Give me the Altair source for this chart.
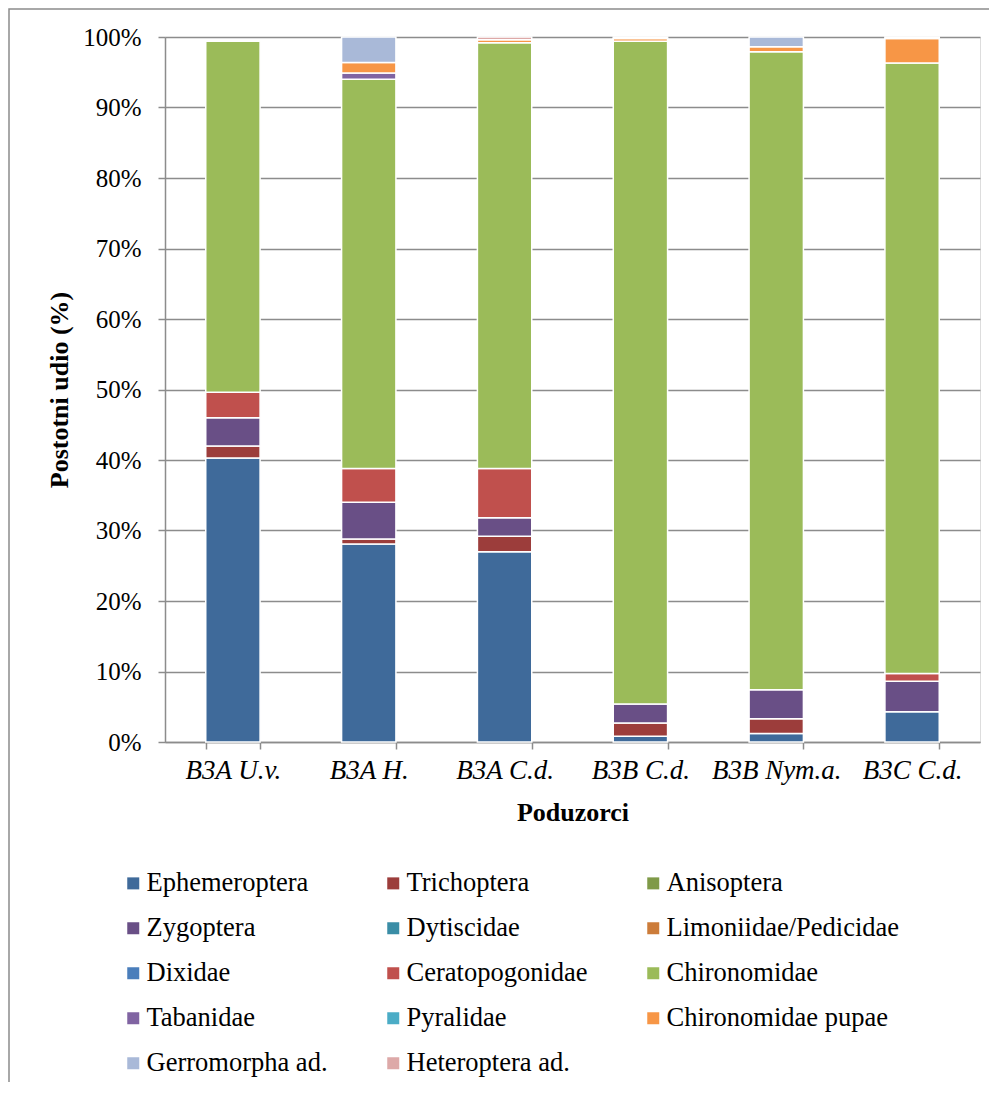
import altair as alt
import pandas as pd

samples = ["B3A U.v.", "B3A H.", "B3A C.d.", "B3B C.d.", "B3B Nym.a.", "B3C C.d."]

taxa = ["Ephemeroptera", "Trichoptera", "Anisoptera", "Zygoptera", "Dytiscidae",
        "Limoniidae/Pedicidae", "Dixidae", "Ceratopogonidae", "Chironomidae",
        "Tabanidae", "Pyralidae", "Chironomidae pupae", "Gerromorpha ad.",
        "Heteroptera ad."]

colors = ["#3F6A9A", "#9C3D3B", "#7F9A48", "#694F86", "#3A8DA6",
          "#CC7C3A", "#4A7EBB", "#C0504D", "#9BBB59",
          "#8064A2", "#4BACC6", "#F79646", "#A9B9D8", "#DDA9A8"]

# percentage share per sample, in taxa order
b3a_uv   = [40.3, 1.7, 0, 4.0, 0, 0, 0, 3.6, 49.8, 0, 0, 0, 0, 0]
b3a_h    = [28.1, 0.7, 0, 5.2, 0, 0, 0, 4.8, 55.2, 0.9, 0, 1.5, 3.6, 0]
b3a_cd   = [27.0, 2.2, 0, 2.6, 0, 0, 0, 7.0, 60.4, 0, 0, 0.4, 0, 0.4]
b3b_cd   = [0.8, 1.9, 0, 2.7, 0, 0, 0, 0, 94.0, 0, 0, 0.4, 0, 0.2]
b3b_nyma = [1.2, 2.1, 0, 4.1, 0, 0, 0, 0, 90.5, 0, 0, 0.7, 1.4, 0]
b3c_cd   = [4.3, 0, 0, 4.3, 0, 0, 0, 1.1, 86.6, 0, 0, 3.5, 0, 0.2]

series = [b3a_uv, b3a_h, b3a_cd, b3b_cd, b3b_nyma, b3c_cd]

rows = []
for s, vals in zip(samples, series):
    for i, (t, v) in enumerate(zip(taxa, vals)):
        if v > 0:
            rows.append({"sample": s, "taxon": t, "value": v, "idx": i})
df = pd.DataFrame(rows)

FONT = "Liberation Serif"
GRID = "#8c8c8c"

bars = alt.Chart(df).mark_bar(stroke="white", strokeWidth=1.5).encode(
    x=alt.X("sample:N", sort=samples,
            scale=alt.Scale(paddingInner=0.6, paddingOuter=0.3),
            axis=alt.Axis(title="Poduzorci", labelAngle=0, labelFontStyle="italic",
                          labelFont=FONT, labelFontSize=27, labelColor="black",
                          labelPadding=8, tickBand="extent", tickSize=7,
                          tickColor=GRID, domainColor=GRID, domainWidth=1.5,
                          tickWidth=1.5, titleFont=FONT, titleFontSize=26,
                          titleFontWeight="bold", titleColor="black",
                          titlePadding=16)),
    y=alt.Y("value:Q", stack="zero",
            scale=alt.Scale(domain=[0, 100], nice=False),
            axis=alt.Axis(title="Postotni udio (%)", values=list(range(0, 101, 10)),
                          labelExpr="datum.value + '%'", grid=True,
                          gridColor=GRID, gridWidth=1.5, domainColor=GRID,
                          domainWidth=1.5, tickColor=GRID, tickWidth=1.5,
                          tickSize=7, labelFont=FONT, labelFontSize=25,
                          labelColor="black", labelPadding=17,
                          titleFont=FONT, titleFontSize=26, titleFontWeight="bold",
                          titleColor="black", titlePadding=10)),
    color=alt.Color("taxon:N",
                    scale=alt.Scale(domain=taxa, range=colors),
                    legend=alt.Legend(title=None, orient="none", legendX=-45,
                                      legendY=833, direction="horizontal",
                                      columns=3, gridAlign="all",
                                      columnPadding=0, rowPadding=18,
                                      symbolType="square", symbolSize=144,
                                      symbolStrokeWidth=0, labelOffset=0,
                                      labelFont=FONT, labelFontSize=26.5,
                                      labelColor="black", labelLimit=0)),
    order=alt.Order("idx:Q", sort="ascending"),
)

frame = alt.Chart(pd.DataFrame({"a": [0]})).mark_rect(
    fill="white", fillOpacity=0, stroke=GRID, strokeWidth=1.5
).encode(
    x=alt.value(-156), x2=alt.value(840),
    y=alt.value(-28), y2=alt.value(1100),
)

chart = alt.layer(frame, bars).properties(
    width=815, height=705,
    autosize=alt.AutoSizeParams(type="none"),
    padding={"left": 157, "top": 29, "right": 9, "bottom": 340},
).configure_view(stroke=None).configure(background="white")

chart.save("out.html", embed_options={"renderer": "svg", "actions": False})
